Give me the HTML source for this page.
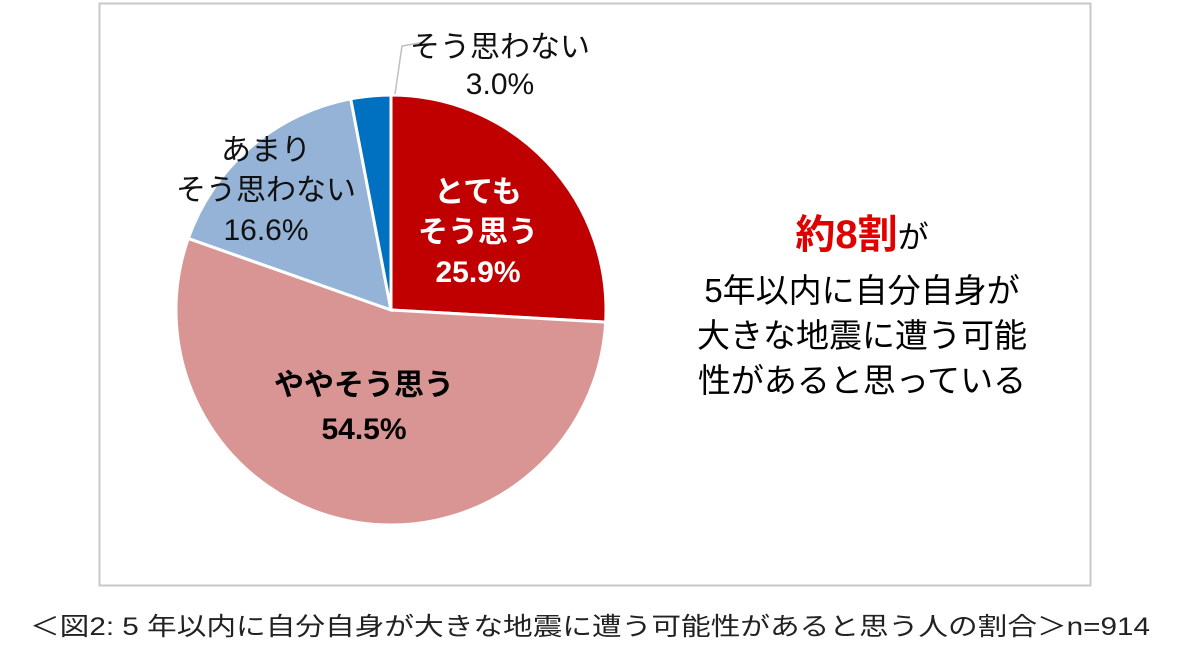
<!DOCTYPE html>
<html><head><meta charset="utf-8"><style>
html,body{margin:0;padding:0;background:#fff;}
svg{display:block;font-family:"Liberation Sans","Noto Sans CJK JP",sans-serif;}
</style></head><body>
<svg width="1200" height="665" viewBox="0 0 1200 665">
<rect x="99.5" y="3.5" width="991" height="582" fill="#fff" stroke="#c8c8c8" stroke-width="2"/>
<g id="pie"></g>
<polyline points="395,94 402,46 425,42" fill="none" stroke="#bfbfbf" stroke-width="1.5"/>
<g id="labels"></g>
<g text-anchor="middle">
<text x="862" y="248" font-size="31"><tspan fill="#e00000" font-weight="bold" font-size="40">約8割</tspan><tspan fill="#000">が</tspan></text>
<text x="862" y="302" font-size="33" fill="#000">5年以内に自分自身が</text>
<text x="862" y="347" font-size="33" fill="#000">大きな地震に遭う可能</text>
<text x="862" y="392" font-size="33" fill="#000">性があると思っている</text>
</g>
<text x="590" y="635" font-size="25" text-anchor="middle" textLength="1120" lengthAdjust="spacingAndGlyphs" fill="#222">＜図2: 5 年以内に自分自身が大きな地震に遭う可能性があると思う人の割合＞n=914</text>
</svg>
<script>
const categories = ["とてもそう思う","ややそう思う","あまりそう思わない","そう思わない"];
const values = [25.9, 54.5, 16.6, 3.0];
const colors = ["#c00000","#d99594","#95b3d7","#0070c0"];
const cx=391, cy=310, r=215;
const ns="http://www.w3.org/2000/svg";
const pie=document.getElementById('pie');
const total=values.reduce((a,b)=>a+b,0);
function pt(a,rr){return [cx+rr*Math.sin(a), cy-rr*Math.cos(a)];}
let acc=0;
values.forEach((v,i)=>{
  const a0=acc/total*2*Math.PI; acc+=v; const a1=acc/total*2*Math.PI;
  const p0=pt(a0,r), p1=pt(a1,r);
  const large=(a1-a0)>Math.PI?1:0;
  const p=document.createElementNS(ns,'path');
  p.setAttribute('d',`M${cx},${cy} L${p0[0]},${p0[1]} A${r},${r} 0 ${large} 1 ${p1[0]},${p1[1]} Z`);
  p.setAttribute('fill',colors[i]);
  p.setAttribute('stroke','#fff');
  p.setAttribute('stroke-width','3');
  
  
  pie.appendChild(p);
});
const labelLines=[["とても","そう思う"],["ややそう思う"],["あまり","そう思わない"],["そう思わない"]];
const labelPos=[[478,191,true,"#fff"],[364,384,true,"#000"],[266,149,false,"#111"],[500,46,false,"#111"]];
const lg=document.getElementById('labels');
labelLines.forEach((lines,i)=>{
  const [x,y,bold,col]=labelPos[i];
  const all=lines.concat([values[i].toFixed(1)+"%"]);
  all.forEach((t,j)=>{
    const tx=document.createElementNS(ns,'text');
    tx.setAttribute('x',x);
    tx.setAttribute('y',y+j*(i===3?37:(i===1?44:40))+11);
    tx.setAttribute('text-anchor','middle');
    tx.setAttribute('font-size','30');
    tx.setAttribute('fill',col);
    if(bold) tx.setAttribute('font-weight','bold');
    tx.textContent=t;
    
    
    lg.appendChild(tx);
  });
});
</script>
</body></html>
